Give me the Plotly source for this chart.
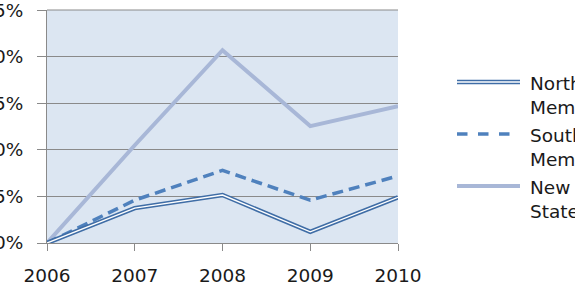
import plotly.graph_objects as go

years = [2006, 2007, 2008, 2009, 2010]
north = [0.0, 0.0375, 0.0515, 0.012, 0.049]
south = [0.0, 0.046, 0.078, 0.046, 0.072]
new_ms = [0.0, 0.105, 0.207, 0.1255, 0.147]

legend_labels = ["Northern<br>Member States", "Southern<br>Member States", "New Member<br>States"]
y_ticks = [0, 0.05, 0.10, 0.15, 0.20, 0.25]

FONT = "DejaVu Sans"
c_north = "#3F6DA6"
c_south = "#4F81BD"
c_new = "#A8B7D7"
grid = "#8A8A8A"

fig = go.Figure()
fig.add_trace(go.Scatter(x=years, y=new_ms, mode="lines", line=dict(color=c_new, width=4), cliponaxis=False, showlegend=False))
fig.add_trace(go.Scatter(x=years, y=south, mode="lines", line=dict(color=c_south, width=3.5, dash="11px,6px"), cliponaxis=False, showlegend=False))
fig.add_trace(go.Scatter(x=years, y=north, mode="lines", line=dict(color=c_north, width=4.5), cliponaxis=False, showlegend=False))
fig.add_trace(go.Scatter(x=years, y=north, mode="lines", line=dict(color="white", width=1.4), cliponaxis=False, showlegend=False))

L, R, T, B = 47, 177, 10, 47
W, H = 575, 290
pw = W - L - R
ph = H - T - B

def px_x(x):
    return (x - L) / pw

def px_y(y):
    return (H - B - y) / ph

# manual legend
leg_rows = [82, 134, 186]
styles = [
    [dict(color=c_north, width=4.5), dict(color="white", width=1.4)],
    [dict(color=c_south, width=3.5, dash="dash")],
    [dict(color=c_new, width=4)],
]
shapes = [dict(type="line", xref="paper", yref="paper", x0=0, x1=1, y0=1, y1=1,
               line=dict(color=grid, width=1), layer="below")]
annotations = []
for yy, lab, sts in zip(leg_rows, legend_labels, styles):
    for st in sts:
        shapes.append(dict(type="line", xref="paper", yref="paper",
                           x0=px_x(457), x1=px_x(520), y0=px_y(yy), y1=px_y(yy),
                           line=st))
    annotations.append(dict(text=lab, xref="paper", yref="paper", x=px_x(528), y=px_y(yy - 11),
                            xanchor="left", yanchor="top", showarrow=False, align="left",
                            font=dict(family=FONT, size=18.5, color="#1a1a1a")))

fig.update_layout(
    width=W, height=H,
    margin=dict(l=L, r=R, t=T, b=B, autoexpand=False),
    paper_bgcolor="white",
    plot_bgcolor="#DCE6F2",
    showlegend=False,
    shapes=shapes,
    annotations=annotations,
    font=dict(family=FONT, size=18.5, color="#1a1a1a"),
)
fig.update_xaxes(range=[2006, 2010], tickvals=years, ticktext=[str(y) for y in years],
                 showgrid=False, zeroline=False, showline=True, linecolor=grid, linewidth=1,
                 ticks="outside", ticklen=7, tickcolor=grid, ticklabelstandoff=9,
                 ticklabeloverflow="allow", automargin=False)
fig.update_yaxes(range=[0, 0.2502], tickvals=y_ticks, tickformat=".0%",
                 showgrid=True, gridcolor=grid, gridwidth=1, zeroline=False,
                 showline=True, linecolor=grid, linewidth=1,
                 ticks="outside", ticklen=9, tickcolor=grid, ticklabelstandoff=10,
                 ticklabeloverflow="allow", automargin=False)

fig.write_html("out.html")
